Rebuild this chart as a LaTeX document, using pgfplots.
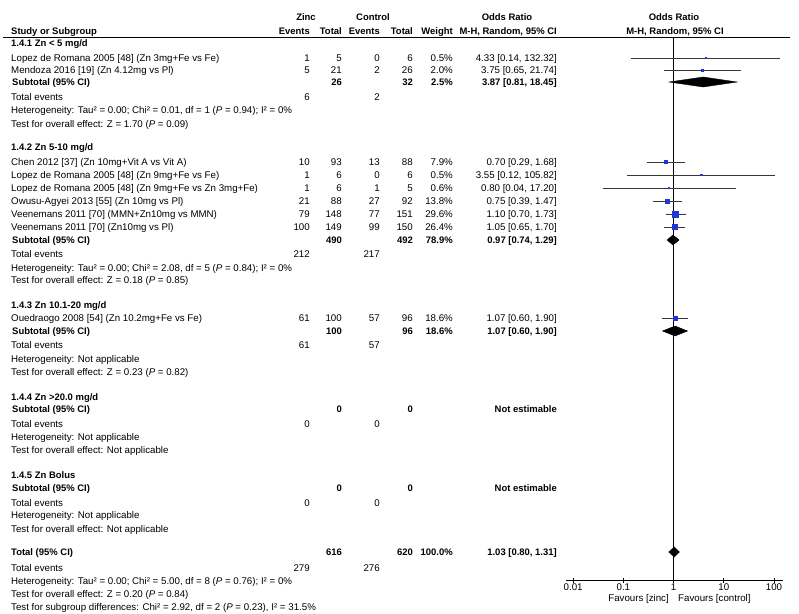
\documentclass[border=0pt]{standalone}
\usepackage{pgfplots}
\usepackage{pgfplotstable}
\pgfplotsset{compat=1.18}
\usepackage{fontspec}
\setmainfont{Liberation Sans}
\definecolor{boxblue}{RGB}{30,55,215}
\definecolor{ciline}{RGB}{55,55,55}
\newcommand\fs{\fontsize{9.75}{11}\selectfont}
\newcommand\fb{\fontsize{9.5}{11}\selectfont\bfseries}
\newcommand\txl[3]{\node[anchor=base west] at (#1,{#2+3.4}) {#3};}
\newcommand\txr[3]{\node[anchor=base east] at (#1,{#2+3.4}) {#3};}
\newcommand\txc[3]{\node[anchor=base] at (#1,{#2+3.4}) {#3};}
% study row: y, label, e1, t1, e2, t2, weight, OR
\newcommand\study[8]{\txl{11}{#1}{#2}\txr{310}{#1}{#3}\txr{342}{#1}{#4}\txr{380}{#1}{#5}\txr{413}{#1}{#6}\txr{453}{#1}{#7}\txr{557}{#1}{#8}}
\newcommand\subt[5]{\txl{12}{#1}{\fb Subtotal (95\% CI)}\txr{342}{#1}{\fb #2}\txr{413}{#1}{\fb #3}\txr{453}{#1}{\fb #4}\txr{557}{#1}{\fb #5}}
\newcommand\tev[3]{\txl{11}{#1}{Total events}\txr{310}{#1}{#2}\txr{380}{#1}{#3}}
\pgfplotstableread{
or    y     ms
4.33  -58   0.7
3.75  -70   1.0
0.70  -162  1.7
3.55  -175  0.7
0.80  -188  0.7
0.75  -201  2.0
1.10  -214  3.0
1.05  -227  2.6
1.07  -318  2.2
}\studies
\begin{document}
\begin{tikzpicture}
\useasboundingbox (0,0) rectangle (799bp,-614bp);
\begin{scope}[x=1bp,y=-1bp,every node/.style={inner sep=0pt,font=\fs}]
% header
\txc{306}{17}{\fb Zinc}
\txc{373}{17}{\fb Control}
\txc{507}{17}{\fb Odds Ratio}
\txc{674}{17}{\fb Odds Ratio}
\txl{11}{31}{\fb Study or Subgroup}
\txr{310}{31}{\fb Events}
\txr{342}{31}{\fb Total}
\txr{380}{31}{\fb Events}
\txr{413}{31}{\fb Total}
\txr{453}{31}{\fb Weight}
\txr{557}{31}{\fb M-H, Random, 95\% CI}
\txc{675}{31}{\fb M-H, Random, 95\% CI}
\draw[line width=0.9bp] (3,37.5) -- (790,37.5);
% 1.4.1
\txl{11}{43}{\fb 1.4.1 Zn < 5 mg/d}
\study{58}{Lopez de Romana 2005 [48] (Zn 3mg+Fe vs Fe)}{1}{5}{0}{6}{0.5\%}{4.33 [0.14, 132.32]}
\study{70}{Mendoza 2016 [19] (Zn 4.12mg vs Pl)}{5}{21}{2}{26}{2.0\%}{3.75 [0.65, 21.74]}
\subt{82}{26}{32}{2.5\%}{3.87 [0.81, 18.45]}
\tev{97}{6}{2}
\txl{11}{110}{Heterogeneity: Tau² = 0.00; Chi² = 0.01, df = 1 (\textit{P} = 0.94); I² = 0\%}
\txl{11}{124}{Test for overall effect: Z = 1.70 (\textit{P} = 0.09)}
% 1.4.2
\txl{11}{147}{\fb 1.4.2 Zn 5-10 mg/d}
\study{162}{Chen 2012 [37] (Zn 10mg+Vit A vs Vit A)}{10}{93}{13}{88}{7.9\%}{0.70 [0.29, 1.68]}
\study{175}{Lopez de Romana 2005 [48] (Zn 9mg+Fe vs Fe)}{1}{6}{0}{6}{0.5\%}{3.55 [0.12, 105.82]}
\study{188}{Lopez de Romana 2005 [48] (Zn 9mg+Fe vs Zn 3mg+Fe)}{1}{6}{1}{5}{0.6\%}{0.80 [0.04, 17.20]}
\study{201}{Owusu-Agyei 2013 [55] (Zn 10mg vs Pl)}{21}{88}{27}{92}{13.8\%}{0.75 [0.39, 1.47]}
\study{214}{Veenemans 2011 [70] (MMN+Zn10mg vs MMN)}{79}{148}{77}{151}{29.6\%}{1.10 [0.70, 1.73]}
\study{227}{Veenemans 2011 [70] (Zn10mg vs Pl)}{100}{149}{99}{150}{26.4\%}{1.05 [0.65, 1.70]}
\subt{240}{490}{492}{78.9\%}{0.97 [0.74, 1.29]}
\tev{254}{212}{217}
\txl{11}{268}{Heterogeneity: Tau² = 0.00; Chi² = 2.08, df = 5 (\textit{P} = 0.84); I² = 0\%}
\txl{11}{280}{Test for overall effect: Z = 0.18 (\textit{P} = 0.85)}
% 1.4.3
\txl{11}{305}{\fb 1.4.3 Zn 10.1-20 mg/d}
\study{318}{Ouedraogo 2008 [54] (Zn 10.2mg+Fe vs Fe)}{61}{100}{57}{96}{18.6\%}{1.07 [0.60, 1.90]}
\subt{331}{100}{96}{18.6\%}{1.07 [0.60, 1.90]}
\tev{345}{61}{57}
\txl{11}{359}{Heterogeneity: Not applicable}
\txl{11}{372}{Test for overall effect: Z = 0.23 (\textit{P} = 0.82)}
% 1.4.4
\txl{11}{397}{\fb 1.4.4 Zn >20.0 mg/d}
\subt{409}{0}{0}{}{Not estimable}
\tev{424}{0}{0}
\txl{11}{437}{Heterogeneity: Not applicable}
\txl{11}{450}{Test for overall effect: Not applicable}
% 1.4.5
\txl{11}{475}{\fb 1.4.5 Zn Bolus}
\subt{488}{0}{0}{}{Not estimable}
\tev{503}{0}{0}
\txl{11}{515}{Heterogeneity: Not applicable}
\txl{11}{529}{Test for overall effect: Not applicable}
% total
\txl{11}{552}{\fb Total (95\% CI)}
\txr{342}{552}{\fb 616}
\txr{413}{552}{\fb 620}
\txr{453}{552}{\fb 100.0\%}
\txr{557}{552}{\fb 1.03 [0.80, 1.31]}
\tev{568}{279}{276}
\txl{11}{581}{Heterogeneity: Tau² = 0.00; Chi² = 5.00, df = 8 (\textit{P} = 0.76); I² = 0\%}
\txl{11}{594}{Test for overall effect: Z = 0.20 (\textit{P} = 0.84)}
\txl{11}{607}{Test for subgroup differences: Chi² = 2.92, df = 2 (\textit{P} = 0.23), I² = 31.5\%}
\txr{669}{598}{Favours [zinc]}
\txl{678}{598}{Favours [control]}
\end{scope}
\begin{axis}[
  at={(566bp,0bp)}, anchor=north west,
  scale only axis, width=217bp, height=580bp,
  xmode=log, log basis x=10, xmin=0.0072, xmax=151,
  ymin=-580, ymax=0,
  axis x line*=bottom, axis y line=none,
  xtick={0.01,0.1,1,10,100}, xticklabels={0.01,0.1,1,10,100},
  minor xtick={},
  tick align=center, major tick length=5bp,
  tick style={black, line width=0.7bp},
  axis line style={black, line width=0.8bp},
  xticklabel style={font=\fs, inner sep=0pt, yshift=-1bp},
  clip=false,
]
\addplot[black, line width=0.8bp] coordinates {(1,-37.5) (1,-580)};
% confidence intervals
\addplot[ciline, line width=0.8bp] coordinates {(0.14,-58) (132.32,-58)};
\addplot[ciline, line width=0.8bp] coordinates {(0.65,-70) (21.74,-70)};
\addplot[ciline, line width=0.8bp] coordinates {(0.29,-162) (1.68,-162)};
\addplot[ciline, line width=0.8bp] coordinates {(0.12,-175) (105.82,-175)};
\addplot[ciline, line width=0.8bp] coordinates {(0.04,-188) (17.20,-188)};
\addplot[ciline, line width=0.8bp] coordinates {(0.39,-201) (1.47,-201)};
\addplot[ciline, line width=0.8bp] coordinates {(0.70,-214) (1.73,-214)};
\addplot[ciline, line width=0.8bp] coordinates {(0.65,-227) (1.70,-227)};
\addplot[ciline, line width=0.8bp] coordinates {(0.60,-318) (1.90,-318)};
% study boxes
\addplot[scatter, only marks, mark=square*,
  scatter/use mapped color={draw=boxblue, fill=boxblue},
  visualization depends on={\thisrow{ms}\as\msz},
  scatter/@pre marker code/.append style={/tikz/mark size=\msz}]
  table[x=or, y=y] {\studies};
% diamonds
\addplot[fill=black, draw=black] coordinates {(0.81,-82) (3.87,-77) (18.45,-82) (3.87,-87)} --cycle;
\addplot[fill=black, draw=black] coordinates {(0.74,-240) (0.97,-235) (1.29,-240) (0.97,-245)} --cycle;
\addplot[fill=black, draw=black] coordinates {(0.60,-331) (1.07,-326) (1.90,-331) (1.07,-336)} --cycle;
\addplot[fill=black, draw=black] coordinates {(0.80,-552) (1.03,-547) (1.31,-552) (1.03,-557)} --cycle;
\end{axis}
\end{tikzpicture}
\end{document}
